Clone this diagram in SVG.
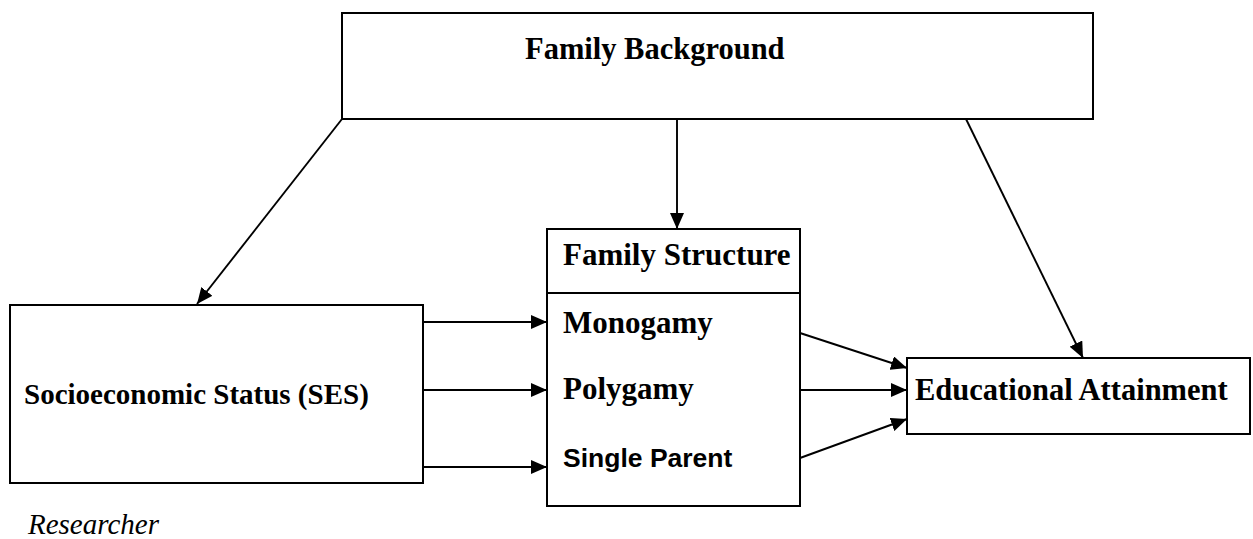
<svg xmlns="http://www.w3.org/2000/svg" width="1253" height="539" viewBox="0 0 1253 539">
<style>
.box{fill:#fff;stroke:#000;stroke-width:2}
.t{font-family:"Liberation Serif","Times New Roman",serif;font-weight:bold;font-size:30.5px;fill:#000}
.s{font-family:"Liberation Sans",Arial,sans-serif;font-weight:bold;font-size:26.5px;fill:#000}
.i{font-family:"Liberation Serif","Times New Roman",serif;font-style:italic;font-size:29px;fill:#000}
.c{stroke:#000;stroke-width:1.9;fill:none;marker-end:url(#ah)}
</style>
<defs>
<marker id="ah" markerUnits="userSpaceOnUse" markerWidth="16" markerHeight="14" refX="16" refY="7" orient="auto">
<path d="M0,0 L16,7 L0,14 z" fill="#000"/>
</marker>
</defs>
<rect width="1253" height="539" fill="#fff"/>
<g id="connectors">
<line class="c" x1="342" y1="119" x2="197" y2="304"/>
<line class="c" x1="677" y1="119" x2="677" y2="229"/>
<line class="c" x1="966" y1="119" x2="1083" y2="358"/>
<line class="c" x1="423" y1="322" x2="547" y2="322"/>
<line class="c" x1="423" y1="390" x2="547" y2="390"/>
<line class="c" x1="423" y1="467" x2="547" y2="467"/>
<line class="c" x1="800" y1="333" x2="907" y2="368"/>
<line class="c" x1="800" y1="390" x2="907" y2="390"/>
<line class="c" x1="800" y1="458" x2="907" y2="419"/>
</g>
<g id="family-background">
<rect class="box" x="342" y="13" width="751" height="106"/>
<text class="t" x="525" y="59">Family Background</text>
</g>
<g id="ses">
<rect class="box" x="10" y="305" width="413" height="178"/>
<text class="t" x="24" y="404" style="font-size:29px">Socioeconomic Status (SES)</text>
</g>
<g id="family-structure">
<rect class="box" x="547" y="229" width="253" height="277"/>
<line x1="547" y1="293" x2="800" y2="293" stroke="#000" stroke-width="2"/>
<text class="t" x="563" y="265" style="font-size:31px">Family Structure</text>
<text class="t" x="563" y="333" style="font-size:31px">Monogamy</text>
<text class="t" x="563" y="399" style="font-size:31px">Polygamy</text>
<text class="s" x="563" y="467">Single Parent</text>
</g>
<g id="educational-attainment">
<rect class="box" x="907" y="358" width="343" height="76"/>
<text class="t" x="915" y="400">Educational Attainment</text>
</g>
<g id="caption">
<text class="i" x="28" y="534">Researcher</text>
</g>
</svg>
